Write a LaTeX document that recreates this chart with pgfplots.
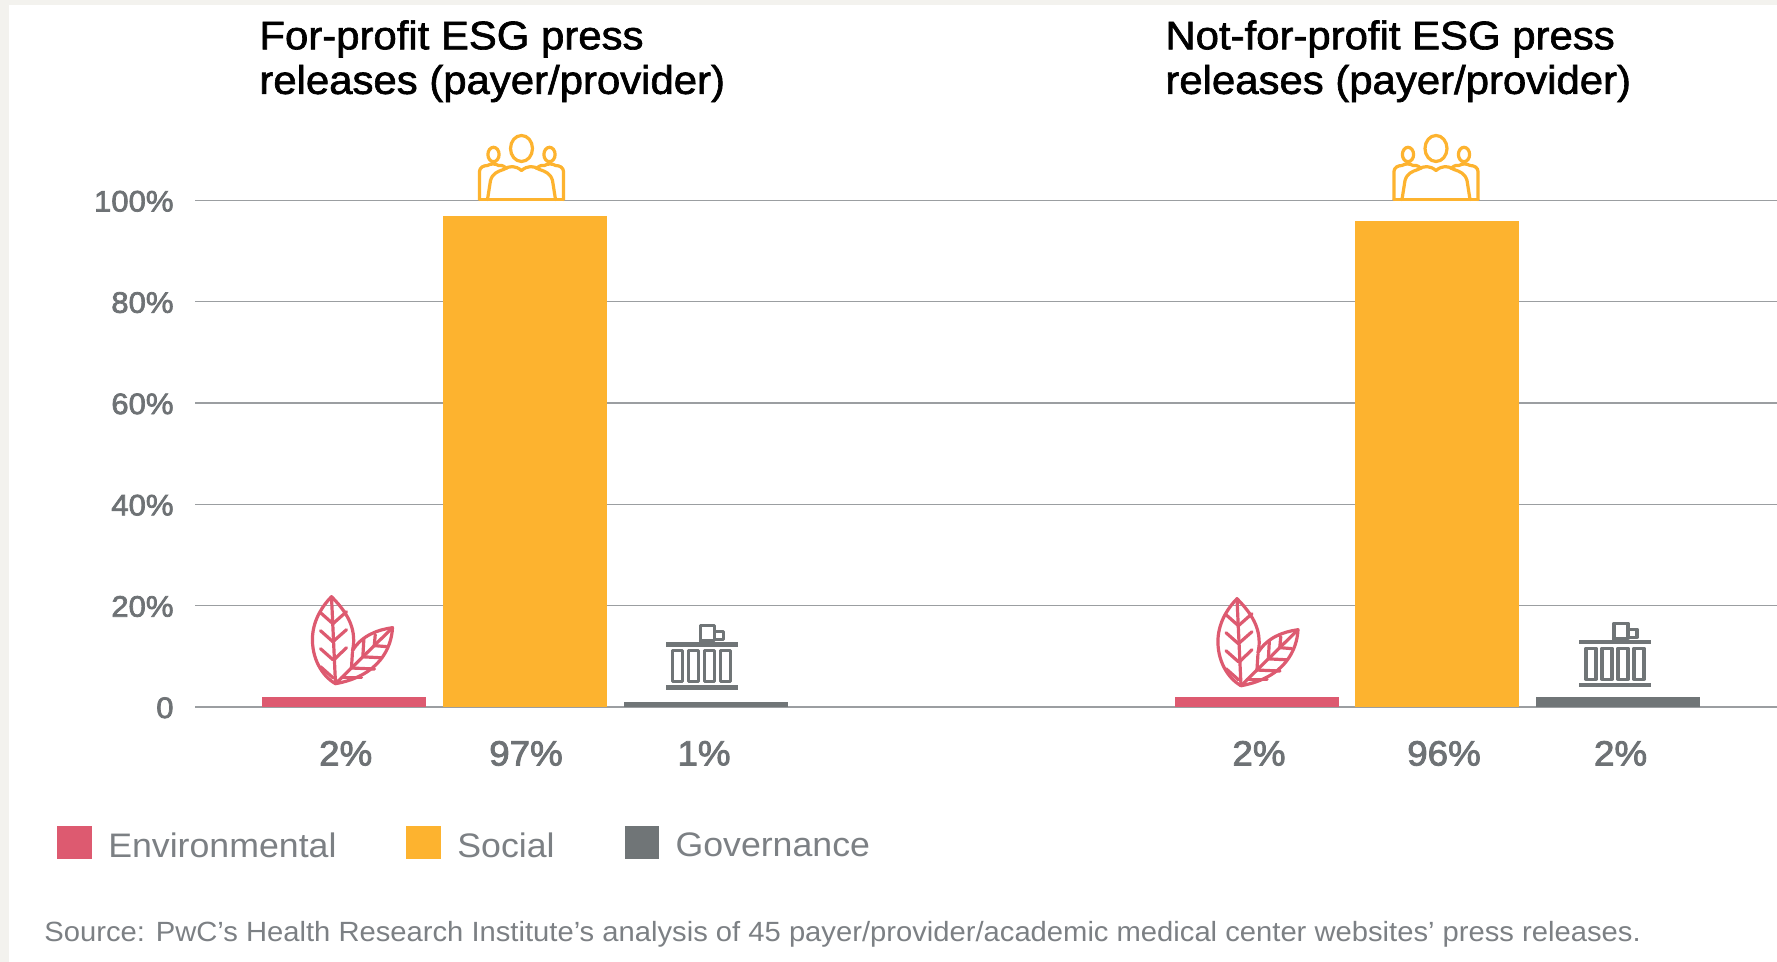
\documentclass[border=0pt]{standalone}
\usepackage{fontspec}
\setmainfont{Liberation Sans}
\newfontfamily\medfont[FakeBold=1.6,FakeStretch=1.05]{Liberation Sans}
\newfontfamily\tickfont[FakeBold=2.4,FakeStretch=1.05]{Liberation Sans}
\newfontfamily\widefont[FakeStretch=1.05]{Liberation Sans}
\usepackage{pgfplots}
\usetikzlibrary{calc}
\pgfplotsset{compat=1.18}
\definecolor{envcol}{HTML}{DD5A70}
\definecolor{soccol}{HTML}{FDB32F}
\definecolor{govcol}{HTML}{707577}
\definecolor{gridcol}{HTML}{9B9EA1}
\definecolor{labelcol}{HTML}{6E7275}
\definecolor{lightcol}{HTML}{7C8084}
\definecolor{pagecol}{HTML}{F3F2EE}

% Line icons, drawn in a local frame with one unit per output pixel
\tikzset{
  iconframe/.style={x=0.5pt,y=0.5pt,line width=1.6pt,line join=round,line cap=round},
  pics/leaves/.style={code={
    \begin{scope}[iconframe,draw=envcol]
      \draw (0,0) .. controls (-14,8) and (-24,26) .. (-23,47)
            .. controls (-22,65) and (-12,79) .. (-4,87)
            .. controls (5,78) and (17,64) .. (18,47)
            .. controls (18.5,42) and (18,38) .. (17,33);
      \draw (-4,87) -- (0,0);
      \foreach \a in {68,50,32,14}{
        \draw (-2.6,\a-8) -- (-15,\a+3);
      }
      \foreach \a in {68,50}{
        \draw (-2.6,\a-8) -- (11,\a+4);
      }
      \draw (-1.5,24) -- (11,36);
      \draw (0,0) -- (57,56);
      \draw (17,33) .. controls (26,48) and (42,54) .. (57,56)
            .. controls (56,36) and (44,8) .. (0,0);
      \foreach \p/\up/\ri in {0.28/16/23,0.48/18/19,0.68/11/12}{
        \draw ($(0,0)!\p!(57,56)$) -- ++(1,\up);
        \draw ($(0,0)!\p!(57,56)$) -- ++(\ri,-1);
      }
      \draw (6,6) -- (26,6);
    \end{scope}
  }},
  pics/people/.style={code={
    \begin{scope}[iconframe,draw=soccol]
      \draw (0,52) ellipse [x radius=5.5pt,y radius=6.5pt];
      \draw (-28,46) ellipse [x radius=2.8pt,y radius=3.6pt];
      \draw (28,46) ellipse [x radius=2.8pt,y radius=3.6pt];
      \draw (-42,1) -- (42,1);
      \draw (-34,1) -- (-31,20) .. controls (-29,27) and (-24,29) .. (-18,31)
            .. controls (-12,35) and (-6,35) .. (0,30)
            .. controls (6,35) and (12,35) .. (18,31)
            .. controls (24,29) and (29,27) .. (31,20) -- (34,1);
      \draw (-42,1) -- (-42,29) .. controls (-42,33) and (-38,35) .. (-34,35)
            .. controls (-31,37) and (-26,37) .. (-23,35)
            .. controls (-19,36) and (-16,33) .. (-15,32);
      \draw (42,1) -- (42,29) .. controls (42,33) and (38,35) .. (34,35)
            .. controls (31,37) and (26,37) .. (23,35)
            .. controls (19,36) and (16,33) .. (15,32);
    \end{scope}
  }},
  pics/building/.style={code={
    \begin{scope}[iconframe,draw=govcol,fill=govcol]
      \fill (-36,0) rectangle (36,4.5);
      \fill (-36,43) rectangle (36,47.5);
      \foreach \x in {-29,-13,3,19}{
        \draw[fill=none] (\x,8) rectangle (\x+10,39);
      }
      \draw[fill=none] (-1,47) -- (-1,64) -- (13,64) -- (13,49) -- (-1,49);
      \draw[fill=none] (13,50) rectangle (22,58);
    \end{scope}
  }}
}
\pgfplotsset{
  swatch/.style={legend image code/.code={
    \fill[##1,draw=none] (0pt,-6.55pt) rectangle (17.25pt,9.95pt);}}
}

\begin{document}
\begin{tikzpicture}
\useasboundingbox (0,0) rectangle (888.5pt,481pt);
\fill[pagecol] (0,0) rectangle (888.5pt,481pt);
\fill[white] (4.3pt,0) rectangle (888.5pt,478.5pt);

\begin{axis}[
  at={(97.5pt,127.5pt)}, anchor=south west,
  scale only axis, width=791pt, height=253.25pt,
  xmin=195, xmax=1777, ymin=0, ymax=100,
  clip=false,
  axis line style={draw=none},
  major tick length=0pt,
  ymajorgrids, grid style={gridcol,line width=0.6pt},
  ytick={0,20,40,60,80,100},
  yticklabels={0,20\%,40\%,60\%,80\%,100\%},
  xtick={345.7,526,704,1259,1444,1620.6},
  xticklabels={2\%,97\%,1\%,2\%,96\%,2\%},
  yticklabel style={font=\tickfont\fontsize{14.8}{16}\selectfont,text=labelcol,xshift=-7.2pt,yshift=-0.4pt},
  xticklabel style={font=\tickfont\fontsize{17.5}{19}\selectfont,text=labelcol,yshift=-13.5pt},
  legend columns=3,
  legend cell align=left,
  legend style={
    at={(-0.08723,-0.2350)}, anchor=north west,
    draw=none, fill=none, inner sep=0pt,
    font=\widefont\fontsize{17}{19}\selectfont,
    text=lightcol,
    /tikz/column 1/.style={column sep=6.2pt},
    /tikz/column 2/.style={column sep=33pt},
    /tikz/column 3/.style={column sep=6.2pt},
    /tikz/column 4/.style={column sep=33pt},
    /tikz/column 5/.style={column sep=6.2pt},
  },
]
% For-profit panel
\addplot[ybar,bar width=164,bar shift=0pt,fill=envcol,draw=none,swatch] coordinates {(343.5,2)};
\addlegendentry{Environmental}
\addplot[ybar,bar width=164,bar shift=0pt,fill=soccol,draw=none,swatch] coordinates {(524.5,97)};
\addlegendentry{Social}
\addplot[ybar,bar width=164,bar shift=0pt,fill=govcol,draw=none,swatch] coordinates {(705.5,1)};
\addlegendentry{Governance}
% Not-for-profit panel
\addplot[ybar,bar width=164,bar shift=0pt,fill=envcol,draw=none,forget plot] coordinates {(1256.5,2)};
\addplot[ybar,bar width=164,bar shift=0pt,fill=soccol,draw=none,forget plot] coordinates {(1437,96)};
\addplot[ybar,bar width=164,bar shift=0pt,fill=govcol,draw=none,forget plot] coordinates {(1617.5,2)};

% Category icons
\pic at (axis cs:335.5,4.6) {leaves};
\pic at (axis cs:521.5,100) {people};
\pic at (axis cs:701.5,3.4) {building};
\pic at (axis cs:1241,4.2) {leaves};
\pic at (axis cs:1436,100) {people};
\pic at (axis cs:1615,3.9) {building};
\end{axis}

% Panel titles and source line
\node[anchor=north west,inner sep=0pt,align=left,font=\medfont\fontsize{19.95}{22.3}\selectfont,text=black]
  at (129.5pt,471pt) {For-profit ESG press\\releases (payer/provider)};
\node[anchor=north west,inner sep=0pt,align=left,font=\medfont\fontsize{19.95}{22.3}\selectfont,text=black]
  at (582.5pt,471pt) {Not-for-profit ESG press\\releases (payer/provider)};
\node[anchor=west,inner sep=0pt,font=\widefont\fontsize{13.9}{15}\selectfont,text=lightcol]
  at (22pt,14pt) {Source: PwC’s Health Research Institute’s analysis of 45 payer/provider/academic medical center websites’ press releases.};
\end{tikzpicture}
\end{document}
